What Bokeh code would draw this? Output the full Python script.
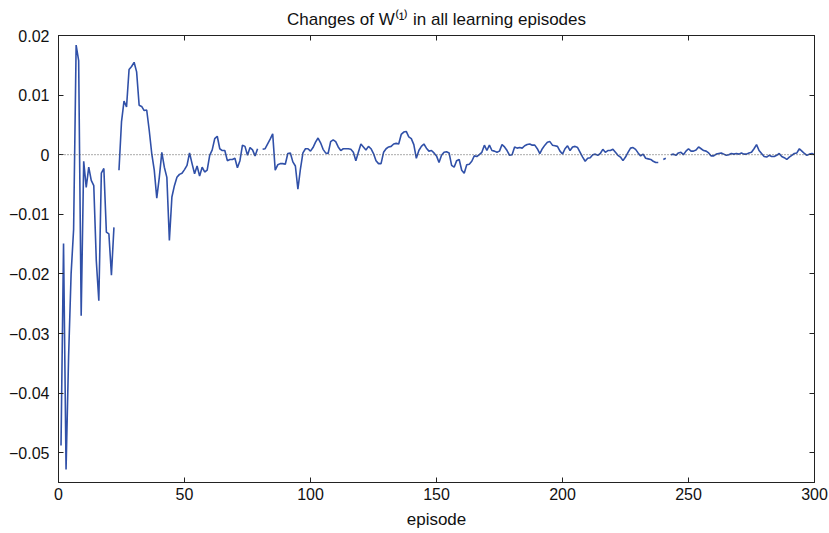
import math
from bokeh.plotting import figure
from bokeh.models import Span, LinearAxis, FixedTicker, ColumnDataSource, Range1d
from bokeh.embed import file_html
from bokeh.resources import INLINE

NAN = float("nan")

# episode numbers 1..300
episodes = list(range(1, 301))

# change of W(1) per episode (NaN = gap)
changes = [
    # 1-10
    -0.0488, -0.0149, -0.0528, -0.0340, -0.0200, -0.0125, 0.0184, 0.0158, -0.0270, -0.0011,
    # 11-20
    -0.0055, -0.0021, -0.0043, -0.0052, -0.0178, -0.0245, -0.0031, -0.0023, -0.0130, -0.0133,
    # 21-30
    -0.0202, -0.0122, NAN, -0.0026, 0.0055, 0.0090, 0.0080, 0.0143, 0.0148, 0.0155,
    # 31-40
    0.0139, 0.0083, 0.0081, 0.0074, 0.0075, 0.0041, 0.0002, -0.0026, -0.0073, -0.0038,
    # 41-50
    0.0004, -0.0021, -0.0038, -0.0144, -0.0071, -0.0052, -0.0038, -0.0033, -0.0031, -0.0025,
    # 51-60
    -0.0018, 0.0003, -0.0015, -0.0032, -0.0019, -0.0036, -0.0021, -0.0029, -0.0026, -0.0001,
    # 61-70
    0.0008, 0.0027, 0.0031, 0.0010, 0.0007, 0.0007, -0.0010, -0.0008, -0.0008, -0.0006,
    # 71-80
    -0.0022, -0.0010, 0.0016, 0.0014, -0.0001, 0.0012, 0.0008, -0.0002, 0.0010, NAN,
    # 81-90
    0.0009, 0.0010, 0.0018, 0.0026, 0.0035, -0.0026, -0.0017, -0.0015, -0.0015, -0.0016,
    # 91-100
    0.0002, 0.0003, -0.0012, -0.0019, -0.0058, -0.0024, 0.0003, 0.0010, 0.0010, 0.0006,
    # 101-110
    0.0012, 0.0021, 0.0028, 0.0020, 0.0009, 0.0003, 0.0002, 0.0022, 0.0025, 0.0022,
    # 111-120
    0.0013, 0.0007, 0.0010, 0.0010, 0.0010, 0.0009, 0.0004, -0.0010, 0.0004, 0.0018,
    # 121-130
    0.0013, 0.0008, 0.0014, 0.0010, 0.0002, -0.0010, -0.0015, -0.0015, 0.0004, 0.0010,
    # 131-140
    0.0013, 0.0014, 0.0018, 0.0019, 0.0018, 0.0034, 0.0038, 0.0039, 0.0030, 0.0027,
    # 141-150
    0.0017, -0.0006, 0.0007, 0.0014, 0.0018, 0.0011, 0.0006, 0.0007, 0.0003, -0.0002,
    # 151-160
    -0.0013, -0.0001, 0.0004, 0.0005, 0.0003, -0.0018, -0.0021, -0.0010, -0.0008, -0.0026,
    # 161-170
    -0.0031, -0.0017, -0.0016, -0.0011, -0.0002, -0.0003, 0.0000, 0.0004, 0.0016, 0.0007,
    # 171-180
    0.0016, 0.0007, 0.0006, 0.0004, 0.0006, 0.0017, 0.0013, 0.0007, -0.0001, 0.0000,
    # 181-190
    0.0013, 0.0011, 0.0012, 0.0011, 0.0015, 0.0017, 0.0018, 0.0016, 0.0016, 0.0010,
    # 191-200
    0.0002, 0.0010, 0.0016, 0.0021, 0.0022, 0.0016, 0.0015, 0.0014, 0.0006, 0.0001,
    # 201-210
    0.0010, 0.0015, 0.0007, 0.0013, 0.0014, 0.0012, 0.0004, -0.0004, -0.0011, -0.0006,
    # 211-220
    -0.0005, 0.0000, 0.0001, -0.0001, 0.0002, 0.0009, 0.0004, 0.0007, 0.0007, 0.0009,
    # 221-230
    0.0004, -0.0001, -0.0004, -0.0010, -0.0004, 0.0004, 0.0011, 0.0012, 0.0009, 0.0003,
    # 231-240
    -0.0002, 0.0001, -0.0006, -0.0007, -0.0008, -0.0011, -0.0013, -0.0013, NAN, -0.0008,
    # 241-250
    -0.0006, NAN, 0.0000, 0.0001, -0.0001, 0.0003, 0.0004, 0.0000, 0.0006, 0.0010,
    # 251-260
    0.0006, 0.0006, 0.0008, 0.0013, 0.0010, 0.0007, 0.0006, 0.0003, -0.0002, -0.0002,
    # 261-270
    0.0001, 0.0002, 0.0003, 0.0001, -0.0001, 0.0000, 0.0002, 0.0001, 0.0002, 0.0001,
    # 271-280
    0.0003, 0.0001, 0.0001, 0.0003, 0.0004, 0.0010, 0.0017, 0.0007, 0.0002, -0.0003,
    # 281-290
    -0.0004, -0.0001, -0.0003, -0.0003, -0.0001, 0.0002, -0.0003, -0.0005, -0.0008, -0.0004,
    # 291-300
    -0.0001, 0.0002, 0.0003, 0.0010, 0.0006, 0.0002, -0.0001, 0.0001, 0.0002, 0.0000,
]

x_ticks = [0, 50, 100, 150, 200, 250, 300]
y_ticks = [-0.05, -0.04, -0.03, -0.02, -0.01, 0.0, 0.01, 0.02]
y_tick_labels = {-0.05: "\u22120.05", -0.04: "\u22120.04", -0.03: "\u22120.03", -0.02: "\u22120.02",
                 -0.01: "\u22120.01", 0.0: "0", 0.01: "0.01", 0.02: "0.02"}

title_text = "Changes of W\u207d\u00b9\u207e in all learning episodes"
x_label = "episode"

FONT = "Liberation Sans"
AXC = "#222222"

p = figure(width=829, height=533, output_backend="svg", toolbar_location=None,
           x_range=Range1d(0, 300), y_range=Range1d(-0.055, 0.02),
           min_border_left=58, min_border_right=15, min_border_top=35, min_border_bottom=51)
p.background_fill_color = "white"
p.border_fill_color = "white"
p.outline_line_color = AXC
p.outline_line_width = 1
p.xgrid.visible = False
p.ygrid.visible = False

p.title.text = title_text
p.title.align = "center"
p.title.text_font = FONT
p.title.text_font_size = "17px"
p.title.text_font_style = "normal"
p.title.text_color = "#111111"
p.title.standoff = 13

src = ColumnDataSource(dict(x=episodes, y=changes))
p.add_layout(Span(location=0, dimension="width", line_color="#555555",
                  line_dash="1 2", line_width=1))
p.line("x", "y", source=src, line_color="#3050a8", line_width=1.6)

def style_axis(ax, ticks, show_labels):
    ax.ticker = FixedTicker(ticks=ticks)
    ax.major_tick_in = 5
    ax.major_tick_out = 0
    ax.minor_tick_line_color = None
    ax.axis_line_color = AXC
    ax.major_tick_line_color = AXC
    if show_labels:
        ax.major_label_text_font = FONT
        ax.major_label_text_font_size = "16px"
        ax.major_label_text_color = "#111111"
    else:
        ax.major_label_overrides = {t: "" for t in ticks}
        ax.major_label_text_color = None
        ax.major_label_standoff = 0

style_axis(p.xaxis[0], x_ticks, True)
p.xaxis[0].major_label_standoff = 5
style_axis(p.yaxis[0], y_ticks, True)
p.yaxis[0].major_label_standoff = 9
p.yaxis[0].major_label_overrides = y_tick_labels
p.xaxis[0].axis_label = x_label
p.xaxis[0].axis_label_text_font = FONT
p.xaxis[0].axis_label_text_font_size = "17px"
p.xaxis[0].axis_label_text_font_style = "normal"
p.xaxis[0].axis_label_text_color = "#111111"
p.xaxis[0].axis_label_standoff = 7

ra = LinearAxis()
style_axis(ra, y_ticks, False)
p.add_layout(ra, "right")
ta = LinearAxis()
style_axis(ta, x_ticks, False)
p.add_layout(ta, "above")

open("out.html", "w").write(file_html(p, INLINE))
